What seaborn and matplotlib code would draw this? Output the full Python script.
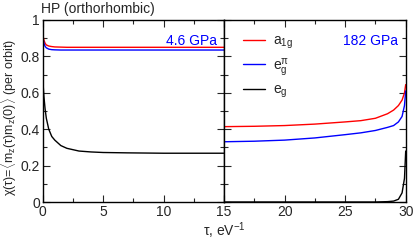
import matplotlib
matplotlib.use("Agg")
import matplotlib.pyplot as plt
from matplotlib.ticker import MultipleLocator, FuncFormatter
import seaborn as sns
import pandas as pd

# ---- data: 4.6 GPa (left panel) ----
tau_lo = [0, 0.1, 0.2, 0.3, 0.5, 0.75, 1.0, 1.5, 2, 3, 4, 5, 7, 10, 12.5, 15]
a1g_lo = [0.92, 0.89, 0.872, 0.863, 0.857, 0.854, 0.852, 0.851, 0.85, 0.85, 0.85, 0.85, 0.85, 0.85, 0.85, 0.85]
egpi_lo = [0.91, 0.872, 0.855, 0.847, 0.84, 0.837, 0.836, 0.835, 0.835, 0.835, 0.835, 0.835, 0.835, 0.835, 0.835, 0.835]
eg_lo = [0.68, 0.58, 0.51, 0.46, 0.40, 0.36, 0.34, 0.31, 0.295, 0.28, 0.275, 0.272, 0.27, 0.268, 0.268, 0.268]

# ---- data: 182 GPa (right panel) ----
tau_hi = [15, 17.5, 20, 22.5, 25, 26.3, 27.5, 28.5, 29, 29.4, 29.7, 29.9, 30]
a1g_hi = [0.414, 0.416, 0.42, 0.428, 0.44, 0.447, 0.46, 0.485, 0.505, 0.53, 0.56, 0.60, 0.645]
egpi_hi = [0.331, 0.334, 0.34, 0.352, 0.37, 0.38, 0.393, 0.41, 0.42, 0.44, 0.47, 0.53, 0.61]
eg_hi = [0.0, 0.0, 0.0, 0.0, 0.0, 0.0, 0.0, 0.002, 0.005, 0.015, 0.05, 0.13, 0.28]

labels = [r"$\mathrm{a_{1g}}$", r"$\mathrm{e_g^{\pi}}$", r"$\mathrm{e_g}$"]
colors = ["#ff0000", "#0000ff", "#000000"]

FS = 10

sns.set_style("ticks")
plt.rcParams["font.family"] = ["Liberation Sans", "DejaVu Sans"]
plt.rcParams["mathtext.fontset"] = "custom"
plt.rcParams["mathtext.rm"] = "Liberation Sans"
plt.rcParams["mathtext.it"] = "Liberation Sans:italic"
plt.rcParams["mathtext.sf"] = "Liberation Sans"
plt.rcParams["mathtext.fallback"] = "cm"
plt.rcParams["font.size"] = FS

def long_df(tau, series):
    rows = []
    for lab, vals in zip(labels, series):
        for t, v in zip(tau, vals):
            rows.append({"tau": t, "chi": v, "orb": lab})
    return pd.DataFrame(rows)

df_lo = long_df(tau_lo, [a1g_lo, egpi_lo, eg_lo])
df_hi = long_df(tau_hi, [a1g_hi, egpi_hi, eg_hi])

fig = plt.figure(figsize=(4.15, 2.4), dpi=100)
ax1 = fig.add_axes([42.7 / 415, 1 - 202 / 240, 181.3 / 415, 182 / 240])
ax2 = fig.add_axes([224 / 415, 1 - 202 / 240, 181.7 / 415, 182 / 240])

pal = dict(zip(labels, colors))
sns.lineplot(data=df_lo, x="tau", y="chi", hue="orb", palette=pal, ax=ax1,
             legend=False, linewidth=1.0, sort=False, estimator=None)
sns.lineplot(data=df_hi, x="tau", y="chi", hue="orb", palette=pal, ax=ax2,
             legend=True, linewidth=1.0, sort=False, estimator=None)

fmt = FuncFormatter(lambda v, p: "%d" % round(v) if abs(v - round(v)) < 1e-9 else "%.1f" % v)
for ax in (ax1, ax2):
    ax.set_ylim(0, 1)
    ax.yaxis.set_major_locator(MultipleLocator(0.2))
    ax.yaxis.set_minor_locator(MultipleLocator(0.1))
    ax.xaxis.set_major_locator(MultipleLocator(5))
    ax.xaxis.set_minor_locator(MultipleLocator(2.5))
    ax.tick_params(which="both", direction="in", top=True, right=True,
                   left=True, bottom=True, width=0.8, labelsize=FS, pad=2)
    ax.tick_params(which="major", length=5)
    ax.tick_params(which="minor", length=3)
    for s in ax.spines.values():
        s.set_linewidth(1.0)
        s.set_visible(True)
        s.set_color("black")
    ax.set_xlabel("")
    ax.set_ylabel("")
    ax.yaxis.set_major_formatter(fmt)
    ax.xaxis.set_major_formatter(fmt)

ax1.set_xlim(0, 15)
ax2.set_xlim(15, 30)
ax2.tick_params(labelleft=False)
ax2.xaxis.set_major_formatter(FuncFormatter(lambda v, p: "" if abs(v - 15) < 1e-9 else "%d" % round(v)))

ax1.text(0.96, 0.885, "4.6 GPa", color="#0000ff", ha="right", va="center",
         transform=ax1.transAxes, fontsize=FS)
ax2.text(0.96, 0.885, "182 GPa", color="#0000ff", ha="right", va="center",
         transform=ax2.transAxes, fontsize=FS)

leg = ax2.legend(loc="upper left", bbox_to_anchor=(0.05, 0.98), frameon=False,
                 handlelength=1.6, handletextpad=0.6, labelspacing=0.35, fontsize=FS,
                 title=None, borderaxespad=0.3)
for h in leg.get_lines():
    h.set_linewidth(1.0)

fig.text(9 / 415, 1 - 118 / 240,
         r"χ(τ)=$\langle$m$_\mathrm{z}$(τ)m$_\mathrm{z}$(0)$\rangle$ (per orbit)",
         rotation=90, ha="center", va="center", fontsize=9)
fig.text(224 / 415, 1 - 231 / 240, r"τ, eV$^{-1}$", ha="center", va="center", fontsize=FS)
fig.text(41 / 415, 1 - 2 / 240, "HP (orthorhombic)", ha="left", va="top", fontsize=FS)

fig.savefig("out.png", dpi=100)
